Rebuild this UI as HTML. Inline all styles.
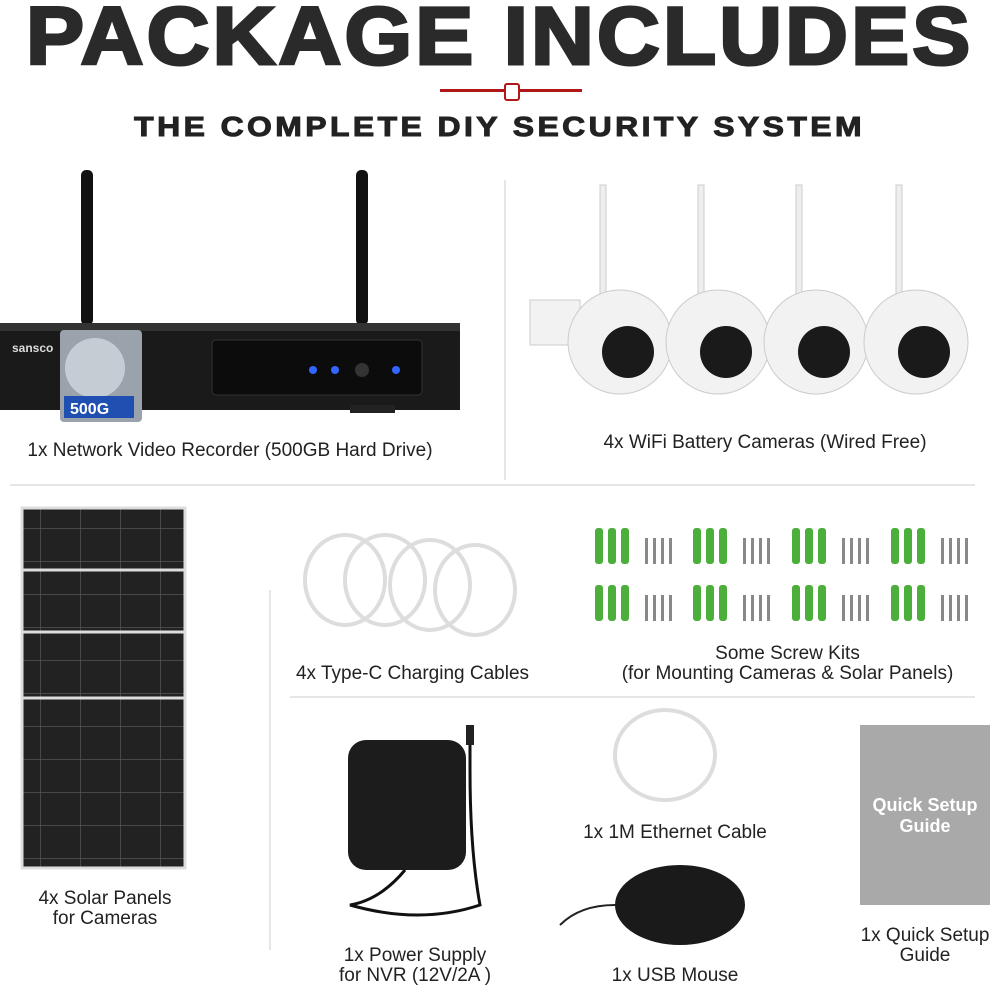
<!DOCTYPE html>
<html><head><meta charset="utf-8">
<style>
body{margin:0;width:1000px;height:987px;background:#fff;position:relative;overflow:hidden;font-family:"Liberation Sans",sans-serif;}
.a{position:absolute}
.lbl{position:absolute;font-size:19px;color:#222;text-align:center;white-space:nowrap;line-height:20px}
.title{position:absolute;left:0;width:1000px;top:-10px;text-align:center;font-weight:900;font-size:82px;color:#2a2a2a;letter-spacing:3px;transform:scaleX(1.06);transform-origin:505px 0;font-family:"Liberation Sans",sans-serif;-webkit-text-stroke:3px #2a2a2a}
.sub{position:absolute;left:0;width:1000px;top:111px;text-align:center;font-weight:900;font-size:28px;color:#222;letter-spacing:3px;transform:scaleX(1.14);transform-origin:503px 0;-webkit-text-stroke:1px #222}
</style></head><body>
<div class="title">PACKAGE INCLUDES</div>
<div class="a" style="left:440px;top:89px;width:142px;height:3px;background:#b01818"></div>
<div class="a" style="left:504px;top:83px;width:12px;height:14px;border:2px solid #b01818;background:#fff;border-radius:3px"></div>
<div class="sub">THE COMPLETE DIY SECURITY SYSTEM</div>

<svg class="a" style="left:0;top:0" width="1000" height="987">
<defs>
<pattern id="grid" width="40" height="33" patternUnits="userSpaceOnUse">
<rect width="40" height="33" fill="#222"/><path d="M0 0H40M0 0V33" stroke="#555" stroke-width="1.5"/>
</pattern>
</defs>
<line x1="505" y1="180" x2="505" y2="480" stroke="#ccc"/>
<line x1="10" y1="485" x2="975" y2="485" stroke="#ccc"/>
<line x1="270" y1="590" x2="270" y2="950" stroke="#ccc"/>
<line x1="290" y1="697" x2="975" y2="697" stroke="#ccc"/>
<!-- NVR -->
<rect x="81" y="170" width="12" height="155" rx="5" fill="#111"/>
<rect x="356" y="170" width="12" height="155" rx="5" fill="#111"/>
<rect x="0" y="323" width="460" height="87" fill="#1a1a1a"/>
<rect x="0" y="323" width="460" height="8" fill="#333"/>
<rect x="212" y="340" width="210" height="55" rx="4" fill="#0c0c0c" stroke="#333"/>
<circle cx="313" cy="370" r="4" fill="#36f"/><circle cx="335" cy="370" r="4" fill="#36f"/><circle cx="396" cy="370" r="4" fill="#36f"/>
<circle cx="362" cy="370" r="7" fill="#333"/>
<rect x="350" y="405" width="45" height="8" fill="#222"/>
<text x="12" y="352" font-size="12" fill="#ddd" font-family="Liberation Sans" font-weight="bold">sansco</text>
<rect x="60" y="330" width="82" height="92" rx="4" fill="#9aa2ab"/>
<circle cx="95" cy="368" r="30" fill="#c5ccd3"/>
<rect x="64" y="396" width="70" height="22" fill="#1f4fb0"/>
<text x="70" y="414" font-size="16" font-weight="bold" fill="#fff" font-family="Liberation Sans">500G</text>
<!-- cameras -->
<g fill="#f2f2f2" stroke="#ccc">
<rect x="530" y="300" width="50" height="45"/>
<rect x="600" y="185" width="6" height="110" fill="#eee"/><rect x="698" y="185" width="6" height="110" fill="#eee"/><rect x="796" y="185" width="6" height="110" fill="#eee"/><rect x="896" y="185" width="6" height="110" fill="#eee"/>
<circle cx="620" cy="342" r="52"/><circle cx="718" cy="342" r="52"/><circle cx="816" cy="342" r="52"/><circle cx="916" cy="342" r="52"/>
</g>
<g fill="#1a1a1a">
<circle cx="628" cy="352" r="26"/><circle cx="726" cy="352" r="26"/><circle cx="824" cy="352" r="26"/><circle cx="924" cy="352" r="26"/>
</g>
<!-- solar panels -->
<g fill="url(#grid)" stroke="#ddd" stroke-width="3">
<rect x="22" y="508" width="163" height="150"/>
<rect x="22" y="570" width="163" height="150"/>
<rect x="22" y="632" width="163" height="150"/>
<rect x="22" y="698" width="163" height="170"/>
</g>
<!-- cables -->
<g fill="none" stroke="#ddd" stroke-width="4">
<ellipse cx="345" cy="580" rx="40" ry="45"/><ellipse cx="385" cy="580" rx="40" ry="45"/><ellipse cx="430" cy="585" rx="40" ry="45"/><ellipse cx="475" cy="590" rx="40" ry="45"/>
<ellipse cx="665" cy="755" rx="50" ry="45"/>
</g>
<!-- screws -->
<g id="s">
<rect x="595" y="528" width="8" height="36" rx="3" fill="#4caf3c"/><rect x="608" y="528" width="8" height="36" rx="3" fill="#4caf3c"/><rect x="621" y="528" width="8" height="36" rx="3" fill="#4caf3c"/>
<rect x="645" y="538" width="3" height="26" fill="#888"/><rect x="653" y="538" width="3" height="26" fill="#888"/><rect x="661" y="538" width="3" height="26" fill="#888"/><rect x="669" y="538" width="3" height="26" fill="#888"/>
</g>
<use href="#s" x="98"/><use href="#s" x="197"/><use href="#s" x="296"/>
<use href="#s" y="57"/><use href="#s" x="98" y="57"/><use href="#s" x="197" y="57"/><use href="#s" x="296" y="57"/>
<!-- power supply -->
<rect x="348" y="740" width="118" height="130" rx="18" fill="#1c1c1c"/>
<path d="M405 870 Q380 900 350 905 Q420 925 480 905 Q470 850 470 770 L470 730" fill="none" stroke="#111" stroke-width="3"/>
<rect x="466" y="725" width="8" height="20" fill="#222"/>
<!-- mouse -->
<ellipse cx="680" cy="905" rx="65" ry="40" fill="#1a1a1a"/>
<path d="M615 905 Q580 905 560 925" fill="none" stroke="#222" stroke-width="2"/>
<!-- guide -->
<rect x="860" y="725" width="130" height="180" fill="#a9a9a9"/>
</svg>
<div class="a" style="left:860px;top:795px;width:130px;text-align:center;color:#fff;font-weight:bold;font-size:18px;line-height:21px">Quick Setup<br>Guide</div>

<div class="lbl" style="left:0;width:460px;top:441px">1x Network Video Recorder (500GB Hard Drive)</div>
<div class="lbl" style="left:530px;width:470px;top:433px">4x WiFi Battery Cameras (Wired Free)</div>
<div class="lbl" style="left:0;width:210px;top:889px">4x Solar Panels<br>for Cameras</div>
<div class="lbl" style="left:270px;width:285px;top:664px">4x Type-C Charging Cables</div>
<div class="lbl" style="left:590px;width:395px;top:644px">Some Screw Kits<br>(for Mounting Cameras &amp; Solar Panels)</div>
<div class="lbl" style="left:320px;width:190px;top:946px">1x Power Supply<br>for NVR (12V/2A )</div>
<div class="lbl" style="left:560px;width:230px;top:823px">1x 1M Ethernet Cable</div>
<div class="lbl" style="left:560px;width:230px;top:966px">1x USB Mouse</div>
<div class="lbl" style="left:840px;width:170px;top:926px">1x Quick Setup<br>Guide</div>
</body></html>
